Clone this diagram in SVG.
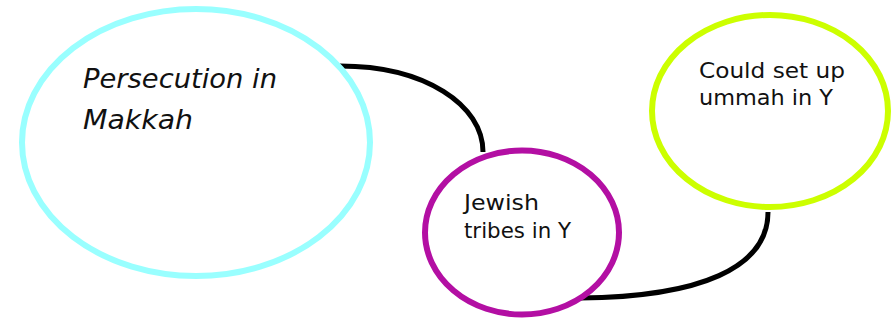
<svg xmlns="http://www.w3.org/2000/svg" width="892" height="321" viewBox="0 0 892 321">
<style>
.node{fill:#ffffff;stroke-width:6}
.lbl{font-family:"DejaVu Sans","Liberation Sans",sans-serif;fill:#111111}
.conn{fill:none;stroke:#000000;stroke-width:5}
</style>
<rect width="892" height="321" fill="#ffffff"/>
<g id="connectors">
<path class="conn" d="M340,66 C425,66 483,105 483,152"/>
<path class="conn" d="M580,298 C700,297 768,268 768,212"/>
</g>
<g id="node-persecution">
<ellipse class="node" cx="196" cy="142.5" rx="174" ry="133.5" stroke="#99ffff"/>
<text class="lbl" font-size="27" font-style="italic"><tspan x="83" y="87.5" textLength="194" lengthAdjust="spacingAndGlyphs">Persecution in</tspan><tspan x="83" y="129" textLength="110" lengthAdjust="spacingAndGlyphs">Makkah</tspan></text>
</g>
<g id="node-jewish">
<ellipse class="node" cx="522" cy="232.5" rx="97" ry="82" stroke="#b30fa3"/>
<text class="lbl" font-size="21"><tspan x="464" y="210" textLength="75" lengthAdjust="spacingAndGlyphs">Jewish</tspan><tspan x="464" y="238" textLength="107" lengthAdjust="spacingAndGlyphs">tribes in Y</tspan></text>
</g>
<g id="node-ummah">
<ellipse class="node" cx="770" cy="111" rx="118" ry="96" stroke="#ccff00"/>
<text class="lbl" font-size="21"><tspan x="699" y="78" textLength="146" lengthAdjust="spacingAndGlyphs">Could set up</tspan><tspan x="699" y="105" textLength="134" lengthAdjust="spacingAndGlyphs">ummah in Y</tspan></text>
</g>
</svg>
